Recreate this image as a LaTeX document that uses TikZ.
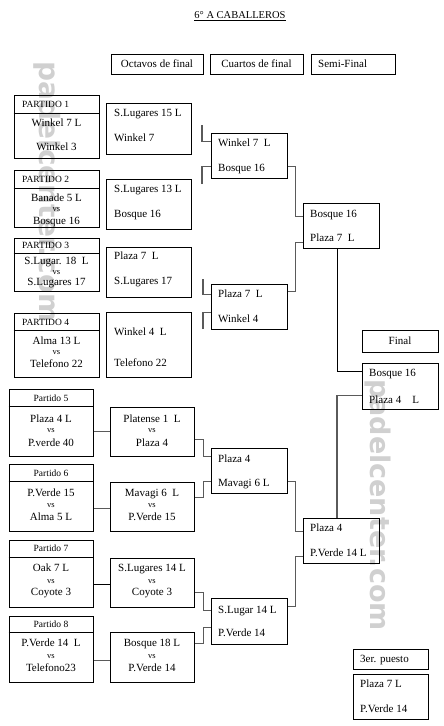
\documentclass[tikz,border=0pt]{standalone}
\usepackage{fontspec}
\setmainfont{Liberation Serif}
\newfontfamily\wmfont{DejaVu Sans}
\usetikzlibrary{calc}
\definecolor{wmc}{RGB}{208,208,208}
\definecolor{connc}{RGB}{90,90,90}
\newcommand\mybx[5]{\node[boxst, minimum width={#4-#2}, minimum height={#5-#3}] (#1) at ({(#2+#4)/2},{(#3+#5)/2}) {};}
\newcommand\mytl[4]{\node[txt,anchor=mid west] (#1) at (#2,{#3+1}) {#4};}
\newcommand\mytc[4]{\node[txt,anchor=mid] (#1) at (#2,{#3+1}) {#4};}
\newcommand\myhl[4]{\node[hd,anchor=mid west] (#1) at (#2,{#3+1}) {#4};}
\newcommand\myhc[4]{\node[hd,anchor=mid] (#1) at (#2,{#3+1}) {#4};}
\newcommand\myvs[3]{\node[vsst,anchor=mid] (#1) at (#2,#3) {vs};}
\newcommand\mydiv[2]{\draw[boxln] (#1.west |- 0,#2) -- (#1.east |- 0,#2);}
\begin{document}
\begin{tikzpicture}[x=1pt,y=-1pt,
  boxst/.style={draw, line width=1pt, rectangle, inner sep=0pt},
  boxln/.style={draw, line width=1pt},
  conn/.style={draw=connc, line width=1.2pt},
  txt/.style={font=\fontsize{11}{13}\selectfont, inner sep=0pt},
  hd/.style={font=\fontsize{9.5}{11}\selectfont, inner sep=0pt},
  vsst/.style={font=\fontsize{8.5}{10}\selectfont, inner sep=0pt},
  wm/.style={font=\wmfont\bfseries\fontsize{28}{30}\selectfont, text=wmc, inner sep=0pt, rotate=-90}]
\useasboundingbox (0,0) rectangle (444,726);
% watermarks
\node[wm] (wm1) at (47,192) {padelcenter.com};
\node[wm, font=\wmfont\bfseries\fontsize{27}{29}\selectfont] (wm2) at (378,505) {padelcenter.com};
% title
\node[font=\fontsize{10.5}{12}\selectfont, inner sep=0pt, anchor=mid] (title) at (240,16) {\underline{6° A CABALLEROS}};
% headers
\mybx{hOct}{111}{54}{203}{74} \mytc{hOctT}{157}{64}{Octavos de final}
\mybx{hCua}{210}{54}{303}{74} \mytc{hCuaT}{256.5}{64}{Cuartos de final}
\mybx{hSem}{311}{54}{395}{74} \mytl{hSemT}{318}{64}{Semi-Final}
% top partidos
\mybx{P1}{14}{95}{99}{158} \mydiv{P1}{113}
\myhl{P1h}{22}{104}{PARTIDO 1}
\mytc{P1a}{56.5}{123}{Winkel 7 L}
\mytc{P1b}{56.5}{147}{Winkel 3}
\mybx{P2}{14}{170}{99}{227} \mydiv{P2}{188}
\myhl{P2h}{22}{179}{PARTIDO 2}
\mytc{P2a}{56.5}{198}{Banade 5 L}
\myvs{P2v}{56.5}{209}
\mytc{P2b}{56.5}{221}{Bosque 16}
\mybx{P3}{14}{238}{99}{291} \mydiv{P3}{253}
\myhl{P3h}{22}{245.5}{PARTIDO 3}
\mytc{P3a}{56.5}{261.5}{S.Lugar. 18\ \ L}
\myvs{P3v}{56.5}{272.5}
\mytc{P3b}{56.5}{282.5}{S.Lugares 17}
\mybx{P4}{14}{313}{99}{377} \mydiv{P4}{330.5}
\myhl{P4h}{22}{322}{PARTIDO 4}
\mytc{P4a}{56.5}{341.5}{Alma 13 L}
\myvs{P4v}{56.5}{352.5}
\mytc{P4b}{56.5}{364}{Telefono 22}
% top octavos
\mybx{O1}{106}{103}{191}{154}
\mytl{O1a}{114}{113}{S.Lugares 15 L}
\mytl{O1b}{114}{138}{Winkel 7}
\mybx{O2}{106}{179}{191}{229}
\mytl{O2a}{114}{189}{S.Lugares 13 L}
\mytl{O2b}{114}{214}{Bosque 16}
\mybx{O3}{106}{247}{191}{297}
\mytl{O3a}{114}{256}{Plaza 7\ \ L}
\mytl{O3b}{114}{281}{S.Lugares 17}
\mybx{O4}{106}{312}{191}{377}
\mytl{O4a}{114}{332}{Winkel 4\ \ L}
\mytl{O4b}{114}{363}{Telefono 22}
% cuartos
\mybx{C1}{211}{133}{287}{178}
\mytl{C1a}{218}{143}{Winkel 7\ \ L}
\mytl{C1b}{218}{168}{Bosque 16}
\mybx{C2}{211}{284}{287}{329}
\mytl{C2a}{218}{294}{Plaza 7\ \ L}
\mytl{C2b}{218}{319}{Winkel 4}
\mybx{C3}{211}{448}{287}{493}
\mytl{C3a}{218}{459}{Plaza 4}
\mytl{C3b}{218}{483}{Mavagi 6 L}
\mybx{C4}{211}{598}{287}{644}
\mytl{C4a}{218}{610}{S.Lugar 14 L}
\mytl{C4b}{218}{633}{P.Verde 14}
% semis
\mybx{S1}{303}{203}{379}{248}
\mytl{S1a}{310}{214}{Bosque 16}
\mytl{S1b}{310}{238}{Plaza 7\ \ L}
\mybx{S2}{303}{518}{379}{563}
\mytl{S2a}{310}{528}{Plaza 4}
\mytl{S2b}{310}{553}{P.Verde 14 L}
% final
\mybx{Fh}{362}{330}{438}{352} \mytc{FhT}{400}{341}{Final}
\mybx{F}{362}{363}{438}{409}
\mytl{Fa}{369}{373}{Bosque 16}
\mytl{Fb}{369}{400}{Plaza 4\ \ \ \ L}
% third place
\mybx{Th}{353}{649}{428}{669} \mytl{ThT}{360}{659}{3er. puesto}
\mybx{R}{353}{674}{428}{719}
\mytl{Ra}{360}{684}{Plaza 7 L}
\mytl{Rb}{360}{709}{P.Verde 14}
% bottom partidos
\mybx{P5}{9}{389}{93}{456} \mydiv{P5}{406}
\myhc{P5h}{51}{398}{Partido 5}
\mytc{P5a}{51}{419}{Plaza 4 L}
\myvs{P5v}{51}{430}
\mytc{P5b}{51}{443}{P.verde 40}
\mybx{P6}{9}{464}{93}{531} \mydiv{P6}{481}
\myhc{P6h}{51}{473.5}{Partido 6}
\mytc{P6a}{51}{493}{P.Verde 15}
\myvs{P6v}{51}{505}
\mytc{P6b}{51}{517}{Alma 5 L}
\mybx{P7}{9}{540}{93}{607} \mydiv{P7}{557}
\myhc{P7h}{51}{548}{Partido 7}
\mytc{P7a}{51}{568}{Oak 7 L}
\myvs{P7v}{51}{581}
\mytc{P7b}{51}{592}{Coyote 3}
\mybx{P8}{9}{616}{93}{682} \mydiv{P8}{632}
\myhc{P8h}{51}{624}{Partido 8}
\mytc{P8a}{51}{643}{P.Verde 14\ \ L}
\myvs{P8v}{51}{656}
\mytc{P8b}{51}{668}{Telefono23}
% bottom octavos
\mybx{O5}{110}{407}{194}{456}
\mytc{O5a}{152}{419}{Platense 1\ \ L}
\myvs{O5v}{152}{430}
\mytc{O5b}{152}{443}{Plaza 4}
\mybx{O6}{110}{482}{194}{531}
\mytc{O6a}{152}{493}{Mavagi 6\ \ L}
\myvs{O6v}{152}{505}
\mytc{O6b}{152}{517}{P.Verde 15}
\mybx{O7}{110}{558}{194}{607}
\mytc{O7a}{152}{568}{S.Lugares 14 L}
\myvs{O7v}{152}{581}
\mytc{O7b}{152}{592}{Coyote 3}
\mybx{O8}{110}{632}{194}{682}
\mytc{O8a}{152}{643}{Bosque 18 L}
\myvs{O8v}{152}{656}
\mytc{O8b}{152}{668}{P.Verde 14}
% connectors
\coordinate (b1) at (202,125);
\coordinate (b2) at (202,184);
\coordinate (b3) at (203,279);
\coordinate (b4) at (203,329);
\draw[conn] (b1) |- ([yshift=-9pt]C1.north west);
\draw[conn] (b2) |- ([yshift=-34pt]C1.north west);
\draw[conn] (b3) |- ([yshift=-11pt]C2.north west);
\draw[conn] (b4) |- ([yshift=-29pt]C2.north west);
\draw[conn] ([yshift=-34pt]C1.north east) -- ++(8,0) |- ([yshift=-14pt]S1.north west);
\draw[conn] ([yshift=-8pt]C2.north east) -- ++(8,0) |- ([yshift=-40pt]S1.north west);
\draw[conn] ([yshift=-34pt]C3.north east) -- ++(8,0) |- ([yshift=-14pt]S2.north west);
\draw[conn] ([yshift=-9pt]C4.north east) -- ++(8,0) |- ([yshift=-39pt]S2.north west);
\draw[conn, draw=black, line width=1pt] ([xshift=-4pt]S1.south) |- ([yshift=-9pt]F.north west);
\draw[conn] ([xshift=-4pt]S2.north) |- ([yshift=-33pt]F.north west);
\draw[conn] ([yshift=-33pt]O5.north east) -- ++(9,0) |- ([yshift=-9pt]C3.north west);
\draw[conn] ([yshift=-16pt]O6.north east) -- ++(9,0) |- ([yshift=-34pt]C3.north west);
\draw[conn] ([yshift=-35pt]O7.north east) -- ++(9,0) |- ([yshift=-13pt]C4.north west);
\draw[conn] ([yshift=-12pt]O8.north east) -- ++(9,0) |- ([yshift=-30pt]C4.north west);
\draw[conn] ([yshift=-43pt]P5.north east) -- ([yshift=-25pt]O5.north west);
\draw[conn] ([yshift=-45pt]P6.north east) -- ([yshift=-27pt]O6.north west);
\draw[conn, draw=black, line width=1pt] ([yshift=-45pt]P7.north east) -- ([yshift=-27pt]O7.north west);
\draw[conn] ([yshift=-45pt]P8.north east) -- ([yshift=-29pt]O8.north west);
\end{tikzpicture}
\end{document}
